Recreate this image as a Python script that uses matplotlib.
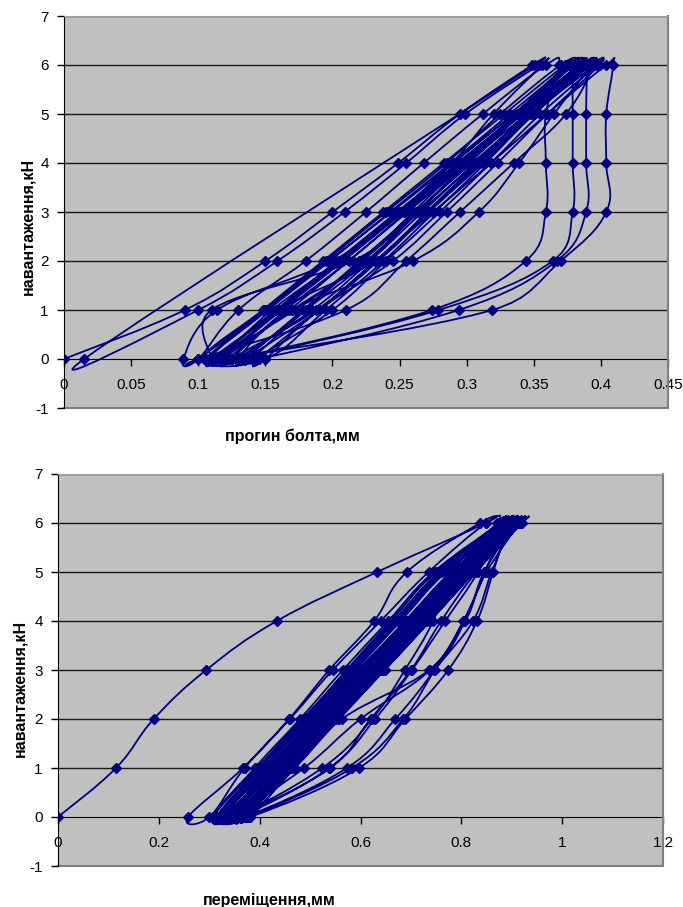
import numpy as np
import matplotlib
matplotlib.use("Agg")
import matplotlib.pyplot as plt
from matplotlib.path import Path
from matplotlib.patches import PathPatch

plt.rcParams['font.family'] = ['Liberation Sans', 'DejaVu Sans']

# load levels for one cycle: loading 0..6, then unloading 6..0
cycle_loads = [0, 1, 2, 3, 4, 5, 6, 6, 5, 4, 3, 2, 1, 0]

# top chart: bolt deflection (mm) at each load step, None = no reading
top_cycles = [
    [0.000, 0.090, 0.150, 0.200, 0.249, 0.295, 0.349, 0.351, None, None, None, None, None, 0.015],
    [None, 0.100, 0.159, 0.209, 0.255, 0.299, 0.354, 0.356, 0.320, 0.289, 0.250, 0.200, 0.114, 0.089],
    [0.100, 0.130, 0.180, 0.225, 0.268, 0.312, 0.359, 0.369, 0.359, 0.359, 0.359, 0.344, 0.274, 0.125],
    [0.106, 0.150, 0.195, 0.240, 0.285, 0.325, 0.370, 0.378, 0.340, 0.300, 0.262, 0.215, 0.110, 0.110],
    [0.115, 0.155, 0.205, 0.250, 0.290, 0.335, 0.380, 0.379, 0.379, 0.379, 0.379, 0.364, 0.279, 0.130],
    [0.125, 0.165, 0.212, 0.255, 0.298, 0.340, 0.384, 0.389, 0.389, 0.389, 0.389, 0.367, 0.294, 0.145],
    [0.130, 0.170, 0.260, 0.309, 0.339, 0.365, 0.394, 0.399, 0.360, 0.323, 0.285, 0.245, 0.190, 0.150],
    [0.145, 0.190, 0.232, 0.275, 0.318, 0.360, 0.404, 0.409, 0.404, 0.404, 0.404, 0.370, 0.319, 0.120],
    [0.110, 0.160, 0.205, 0.250, 0.295, 0.340, 0.386, 0.394, 0.374, 0.335, 0.295, 0.255, 0.210, 0.100],
    [0.100, 0.150, 0.197, 0.244, 0.290, 0.335, 0.380, 0.384, 0.345, 0.308, 0.270, 0.232, 0.160, 0.115],
    [0.112, 0.158, 0.203, 0.248, 0.293, 0.338, 0.383, 0.376, 0.338, 0.300, 0.264, 0.226, 0.180, 0.130],
    [0.108, 0.152, 0.198, 0.243, 0.288, 0.332, 0.376, 0.377, 0.340, 0.302, 0.263, 0.225, 0.170, 0.118],
    [0.118, 0.162, 0.208, 0.253, 0.297, 0.342, 0.388, 0.386, 0.345, 0.306, 0.267, 0.228, 0.185, 0.128],
    [0.122, 0.168, 0.212, 0.256, 0.300, 0.345, 0.391, 0.392, 0.350, 0.312, 0.272, 0.234, 0.190, 0.135],
    [0.135, 0.178, 0.220, 0.262, 0.304, 0.348, 0.396, 0.397, 0.355, 0.318, 0.280, 0.240, 0.200, 0.142],
    [0.140, 0.180, 0.222, 0.265, 0.307, 0.350, 0.392, 0.390, 0.350, 0.314, 0.276, 0.238, 0.195, 0.150],
    [0.104, 0.148, 0.193, 0.238, 0.283, 0.328, 0.373, 0.374, 0.336, 0.298, 0.260, 0.222, 0.172, 0.112],
    [0.116, 0.160, 0.206, 0.251, 0.296, 0.341, 0.387, 0.388, 0.348, 0.310, 0.271, 0.232, 0.188, 0.124],
]

# bottom chart: displacement (mm) at each load step
bot_cycles = [
    [0.000, 0.115, 0.190, 0.294, 0.434, 0.633, 0.849, 0.837, 0.692, 0.627, 0.538, 0.458, 0.367, 0.258],
    [0.300, 0.370, 0.460, 0.545, 0.640, 0.735, 0.849, 0.871, 0.778, 0.744, 0.688, 0.623, 0.524, 0.350],
    [0.308, 0.395, 0.485, 0.575, 0.665, 0.755, 0.875, 0.880, 0.833, 0.768, 0.702, 0.629, 0.538, 0.360],
    [0.315, 0.400, 0.490, 0.580, 0.670, 0.760, 0.880, 0.886, 0.847, 0.804, 0.746, 0.669, 0.573, 0.370],
    [0.320, 0.405, 0.495, 0.585, 0.675, 0.765, 0.890, 0.893, 0.863, 0.831, 0.774, 0.689, 0.597, 0.381],
    [0.326, 0.410, 0.500, 0.590, 0.680, 0.770, 0.897, 0.900, 0.860, 0.823, 0.748, 0.685, 0.583, 0.375],
    [0.330, 0.415, 0.505, 0.595, 0.690, 0.780, 0.905, 0.908, 0.845, 0.808, 0.736, 0.563, 0.468, 0.340],
    [0.335, 0.420, 0.510, 0.600, 0.695, 0.785, 0.912, 0.915, 0.850, 0.805, 0.738, 0.600, 0.488, 0.345],
    [0.340, 0.425, 0.515, 0.605, 0.700, 0.790, 0.918, 0.921, 0.830, 0.760, 0.700, 0.620, 0.540, 0.355],
    [0.345, 0.430, 0.520, 0.610, 0.700, 0.795, 0.885, 0.888, 0.800, 0.710, 0.620, 0.530, 0.440, 0.352],
    [0.355, 0.440, 0.530, 0.620, 0.710, 0.800, 0.895, 0.898, 0.810, 0.720, 0.630, 0.540, 0.450, 0.362],
    [0.360, 0.445, 0.535, 0.625, 0.715, 0.805, 0.900, 0.903, 0.815, 0.725, 0.635, 0.545, 0.455, 0.368],
    [0.365, 0.450, 0.540, 0.630, 0.720, 0.810, 0.910, 0.913, 0.820, 0.730, 0.640, 0.550, 0.460, 0.372],
    [0.372, 0.455, 0.545, 0.635, 0.725, 0.815, 0.916, 0.918, 0.825, 0.735, 0.645, 0.555, 0.465, 0.378],
    [0.310, 0.390, 0.480, 0.565, 0.655, 0.745, 0.878, 0.882, 0.790, 0.700, 0.610, 0.520, 0.430, 0.332],
    [0.318, 0.398, 0.488, 0.572, 0.660, 0.750, 0.884, 0.887, 0.795, 0.705, 0.615, 0.525, 0.435, 0.338],
    [0.322, 0.418, 0.508, 0.598, 0.688, 0.778, 0.872, 0.874, 0.785, 0.695, 0.605, 0.515, 0.425, 0.328],
    [0.328, 0.425, 0.515, 0.605, 0.695, 0.785, 0.878, 0.879, 0.790, 0.700, 0.612, 0.522, 0.432, 0.334],
    [0.342, 0.435, 0.525, 0.615, 0.705, 0.792, 0.887, 0.889, 0.800, 0.712, 0.622, 0.532, 0.442, 0.348],
    [0.350, 0.440, 0.532, 0.622, 0.712, 0.800, 0.893, 0.894, 0.806, 0.718, 0.628, 0.538, 0.448, 0.356],
    [0.358, 0.448, 0.540, 0.630, 0.720, 0.808, 0.902, 0.904, 0.812, 0.724, 0.634, 0.544, 0.454, 0.364],
    [0.368, 0.455, 0.548, 0.640, 0.730, 0.818, 0.909, 0.910, 0.820, 0.730, 0.640, 0.550, 0.462, 0.374],
    [0.376, 0.462, 0.555, 0.648, 0.738, 0.826, 0.914, 0.916, 0.826, 0.738, 0.648, 0.558, 0.470, 0.380],
]

top_xticks = [0, 0.05, 0.1, 0.15, 0.2, 0.25, 0.3, 0.35, 0.4, 0.45]
top_xlabels = ['0', '0.05', '0.1', '0.15', '0.2', '0.25', '0.3', '0.35', '0.4', '0.45']
bot_xticks = [0, 0.2, 0.4, 0.6, 0.8, 1.0, 1.2]
bot_xlabels = ['0', '0.2', '0.4', '0.6', '0.8', '1', '1.2']
yticks = [-1, 0, 1, 2, 3, 4, 5, 6, 7]

LINE = '#000080'


def flatten(cycles):
    xs, ys = [], []
    for c in cycles:
        for x, y in zip(c, cycle_loads):
            if x is not None:
                xs.append(x)
                ys.append(y)
    return np.array(xs), np.array(ys, dtype=float)


def smooth_path(ax, xs, ys, f=0.2, lim=0.5, min_arm=20.0):
    # excel-like smoothed line: bezier segments, tangents from neighbours (display space)
    pts = ax.transData.transform(np.column_stack([xs, ys]))
    n = len(pts)
    verts = [pts[0]]
    codes = [Path.MOVETO]
    for i in range(n - 1):
        p0 = pts[max(i - 1, 0)]
        p1 = pts[i]
        p2 = pts[i + 1]
        p3 = pts[min(i + 2, n - 1)]
        cap = max(lim * np.hypot(*(p2 - p1)), min_arm)
        a1 = (p2 - p0) * f
        a2 = (p3 - p1) * f
        for a in (a1, a2):
            la = np.hypot(*a)
            if la > cap:
                a *= cap / la
        verts += [p1 + a1, p2 - a2, p2]
        codes += [Path.CURVE4] * 3
    inv = ax.transData.inverted()
    return Path(inv.transform(np.array(verts)), codes)


def draw_chart(ax, cycles, xmax, xticks, xlabels):
    ax.set_xlim(0, xmax)
    ax.set_ylim(-1, 7)
    ax.set_facecolor('#C0C0C0')
    for y in range(1, 8):
        ax.axhline(y, color='#1a1a1a', lw=1.0, zorder=1)
    ax.axhline(-1, color='#808080', lw=1.5, zorder=1, clip_on=False)

    xs, ys = flatten(cycles)
    path = smooth_path(ax, xs, ys)
    # markers under the line, so the dense band hides them like in the original
    ax.plot(xs, ys, linestyle='none', marker='D', ms=4.6, color=LINE,
            mec=LINE, zorder=2.5)
    ax.add_patch(PathPatch(path, fill=False, edgecolor=LINE, lw=1.3, zorder=3))

    ax.spines['bottom'].set_position(('data', 0))
    ax.spines['bottom'].set_color('black')
    ax.spines['left'].set_color('black')
    ax.spines['top'].set_color('#a0a0a0')
    ax.spines['right'].set_color('#808080')
    ax.spines['right'].set_linewidth(1.5)
    ax.spines['bottom'].set_zorder(2)

    ax.set_xticks(xticks)
    ax.set_xticklabels(xlabels)
    ax.set_yticks(yticks)
    ax.set_yticklabels([str(v) for v in yticks])
    ax.tick_params(axis='x', direction='out', length=5, width=1, pad=9,
                   labelsize=11, color='black')
    ax.tick_params(axis='y', direction='out', length=5, width=1, pad=6,
                   labelsize=11, color='black')


fig = plt.figure(figsize=(6.83, 9.07), dpi=100)

ax1 = fig.add_axes([64/683, 1-408/907, 604/683, 392/907])
draw_chart(ax1, top_cycles, 0.45, top_xticks, top_xlabels)
fig.text(292/683, 1-436/907, 'прогин болта,мм', ha='center', va='center',
         fontsize=11.5, fontweight='bold')
fig.text(28/683, 1-226/907, 'навантаження,кН', ha='center', va='center',
         rotation=90, fontsize=11.5, fontweight='bold')

ax2 = fig.add_axes([58/683, 1-866/907, 605/683, 392/907])
draw_chart(ax2, bot_cycles, 1.2, bot_xticks, bot_xlabels)
fig.text(269/683, 1-901/907, 'переміщення,мм', ha='center', va='center',
         fontsize=11.5, fontweight='bold')
fig.text(20/683, 1-688/907, 'навантаження,кН', ha='center', va='center',
         rotation=90, fontsize=11.5, fontweight='bold')

fig.savefig('out.png', dpi=100)
